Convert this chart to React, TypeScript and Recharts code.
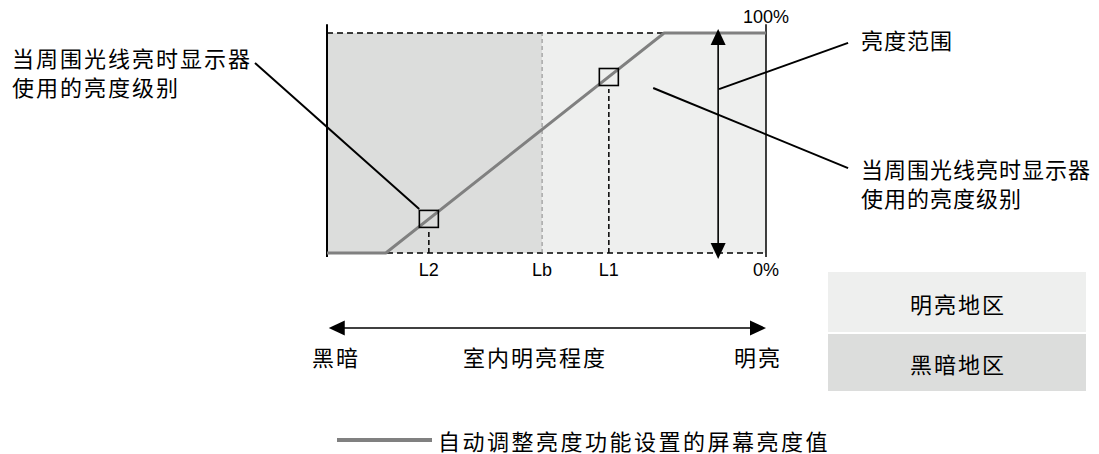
import {
  ComposedChart,
  Line,
  XAxis,
  YAxis,
  ReferenceArea,
  ReferenceLine,
  Scatter,
  Legend,
} from "recharts";

// brightness curve (x = room brightness, y = screen brightness %)
const curveX = [0, 13.4, 76.8, 100];
const curveY = [0, 0, 100, 100];

// the two squares on the curve and where their dashed drop lines start
const markerX = [23.2, 64.2];
const markerY = [15.5, 80];
const dropTop = [10.9, 74.5];

const tickValues = [23.2, 49, 64.2, 100];
const tickLabels = ["L2", "Lb", "L1", "0%"];

const darkRange = [0, 49];
const brightRange = [49, 100];
const lbX = 49;

const seriesName = "自动调整亮度功能设置的屏幕亮度值";
const sideLabel = ["当周围光线亮时显示器", "使用的亮度级别"];
const rangeLabel = "亮度范围";
const roomLabels = ["黑暗", "室内明亮程度", "明亮"];
const regionLabels = ["明亮地区", "黑暗地区"];

// annotation segments, in data units
const leaderLeft = [[-16.4, 86.4], [21, 20]];
const leaderRange = [[89.3, 74.5], [118.7, 95.5]];
const leaderRight = [[74.3, 75], [118.7, 38.6]];
const rangeArrow = [[89.1, -2.7], [89.1, 101.8]];
const roomArrow = [[0.4, -34.1], [100, -34.1]];

const data = curveX.map((x, i) => ({ x, level: curveY[i] }));
const markers = markerX.map((x, i) => ({ x, y: markerY[i] }));

const CJK = '"Noto Sans CJK SC", "Noto Sans", sans-serif';
const LATIN = '"Liberation Sans", Arial, sans-serif';
const GRAY = "#808080";
const DARK = "#dcdddc";
const LIGHT = "#eeefee";

const seg = (s: number[][]) => s.map(([x, y]) => ({ x, y }));

function DoubleArrow(p: any) {
  const { x1, y1, x2, y2 } = p;
  const len = Math.hypot(x2 - x1, y2 - y1) || 1;
  const ux = (x2 - x1) / len;
  const uy = (y2 - y1) / len;
  const h = 16;
  const w = 7.5;
  const head = (tx: number, ty: number, dx: number, dy: number) =>
    `M${tx},${ty} L${tx - dx * h - dy * w},${ty - dy * h + dx * w} L${tx - dx * h + dy * w},${ty - dy * h - dx * w} Z`;
  return (
    <g>
      <line x1={x1 + ux * 4} y1={y1 + uy * 4} x2={x2 - ux * 4} y2={y2 - uy * 4} stroke="#000" strokeWidth={1.6} />
      <path d={head(x2, y2, ux, uy)} fill="#000" />
      <path d={head(x1, y1, -ux, -uy)} fill="#000" />
    </g>
  );
}

function OpenSquare(p: any) {
  const { cx, cy } = p;
  return <rect x={cx - 9.5} y={cy - 8.5} width={19} height={17} fill="none" stroke="#000" strokeWidth={1.6} />;
}

const txt = { fontFamily: CJK, fontSize: 22, fill: "#000" };

// two-line label as one text block
function TwoLines({ x, y, gap, spacing, lines }: { x: number; y: number; gap: number; spacing: number; lines: string[] }) {
  return (
    <text x={x} y={y} dominantBaseline="central" letterSpacing={spacing} style={txt}>
      <tspan x={x} y={y}>{lines[0]}</tspan>
      <tspan x={x} y={y + gap}>{lines[1]}</tspan>
    </text>
  );
}

export default function App() {
  return (
    <div style={{ position: "absolute", left: 0, top: 0, width: 1099, height: 454, background: "#fff" }}>
      <ComposedChart
        width={1099}
        height={454}
        data={data}
        margin={{ top: 33, right: 333, bottom: 171, left: 327 }}
      >
        <XAxis
          dataKey="x"
          type="number"
          domain={[0, 100]}
          ticks={tickValues}
          tickFormatter={(v: number) => tickLabels[tickValues.indexOf(v)]}
          axisLine={false}
          tickLine={false}
          tickSize={6}
          tickMargin={4}
          height={30}
          interval={0}
          tick={{ fill: "#000", fontSize: 18, fontFamily: LATIN }}
        />
        <YAxis type="number" domain={[0, 100]} hide />

        <ReferenceArea x1={darkRange[0]} x2={darkRange[1]} y1={0} y2={100} fill={DARK} fillOpacity={1} stroke="none" />
        <ReferenceArea x1={brightRange[0]} x2={brightRange[1]} y1={0} y2={100} fill={LIGHT} fillOpacity={1} stroke="none" />

        <ReferenceLine y={100} stroke="#000" strokeWidth={1.5} strokeDasharray="6 4" />
        <ReferenceLine y={0} stroke="#000" strokeWidth={1.5} strokeDasharray="6 4" />
        <ReferenceLine x={lbX} stroke="#8a8a8a" strokeWidth={1} strokeDasharray="4 3" />
        {markerX.map((x, i) => (
          <ReferenceLine
            key={x}
            segment={[{ x, y: 0 }, { x, y: dropTop[i] }]}
            stroke="#000"
            strokeWidth={1.5}
            strokeDasharray="5 3"
          />
        ))}

        <ReferenceLine
          segment={[{ x: 0, y: -1.8 }, { x: 0, y: 104 }]}
          stroke="#000"
          strokeWidth={2}
          ifOverflow="visible"
        />
        <ReferenceLine
          segment={[{ x: 100, y: -1.8 }, { x: 100, y: 104 }]}
          stroke="#000"
          strokeWidth={1.5}
          ifOverflow="visible"
          label={{ value: "100%", position: "top", offset: 1, fill: "#000", fontSize: 18, fontFamily: LATIN }}
        />

        <Line
          dataKey="level"
          name={seriesName}
          stroke={GRAY}
          strokeWidth={3}
          dot={false}
          activeDot={false}
          isAnimationActive={false}
        />
        <Scatter data={markers} dataKey="y" shape={OpenSquare} isAnimationActive={false} legendType="none" />

        <ReferenceLine segment={seg(rangeArrow)} ifOverflow="visible" shape={DoubleArrow} />
        <ReferenceLine segment={seg(roomArrow)} ifOverflow="visible" shape={DoubleArrow} />
        <ReferenceLine segment={seg(leaderLeft)} ifOverflow="visible" stroke="#000" strokeWidth={2} />
        <ReferenceLine segment={seg(leaderRange)} ifOverflow="visible" stroke="#000" strokeWidth={2} />
        <ReferenceLine segment={seg(leaderRight)} ifOverflow="visible" stroke="#000" strokeWidth={2} />

        <TwoLines x={12} y={57} gap={29} spacing={2} lines={sideLabel} />
        <text x={861} y={39} dominantBaseline="central" letterSpacing={1} style={txt}>{rangeLabel}</text>
        <TwoLines x={861} y={168} gap={29} spacing={1} lines={sideLabel} />

        <text x={336} y={356} textAnchor="middle" dominantBaseline="central" letterSpacing={2} style={txt}>{roomLabels[0]}</text>
        <text x={535} y={356} textAnchor="middle" dominantBaseline="central" letterSpacing={2} style={txt}>{roomLabels[1]}</text>
        <text x={758} y={356} textAnchor="middle" dominantBaseline="central" letterSpacing={2} style={txt}>{roomLabels[2]}</text>

        <rect x={828} y={272} width={258} height={60} fill={LIGHT} />
        <rect x={828} y={334} width={258} height={57} fill={DARK} />
        <text x={958} y={303} textAnchor="middle" dominantBaseline="central" letterSpacing={2} style={txt}>{regionLabels[0]}</text>
        <text x={958} y={363} textAnchor="middle" dominantBaseline="central" letterSpacing={2} style={txt}>{regionLabels[1]}</text>

        <Legend
          layout="horizontal"
          verticalAlign="middle"
          align="center"
          wrapperStyle={{ top: 426, left: 337, width: 560 }}
          content={() => (
            <div style={{ display: "flex", alignItems: "center", height: 28 }}>
              <span style={{ display: "inline-block", width: 95, height: 4, background: GRAY, marginRight: 6 }} />
              <span style={{ fontFamily: CJK, fontSize: 22, letterSpacing: 2.5, color: "#000", lineHeight: "28px" }}>
                {seriesName}
              </span>
            </div>
          )}
        />
      </ComposedChart>
    </div>
  );
}
